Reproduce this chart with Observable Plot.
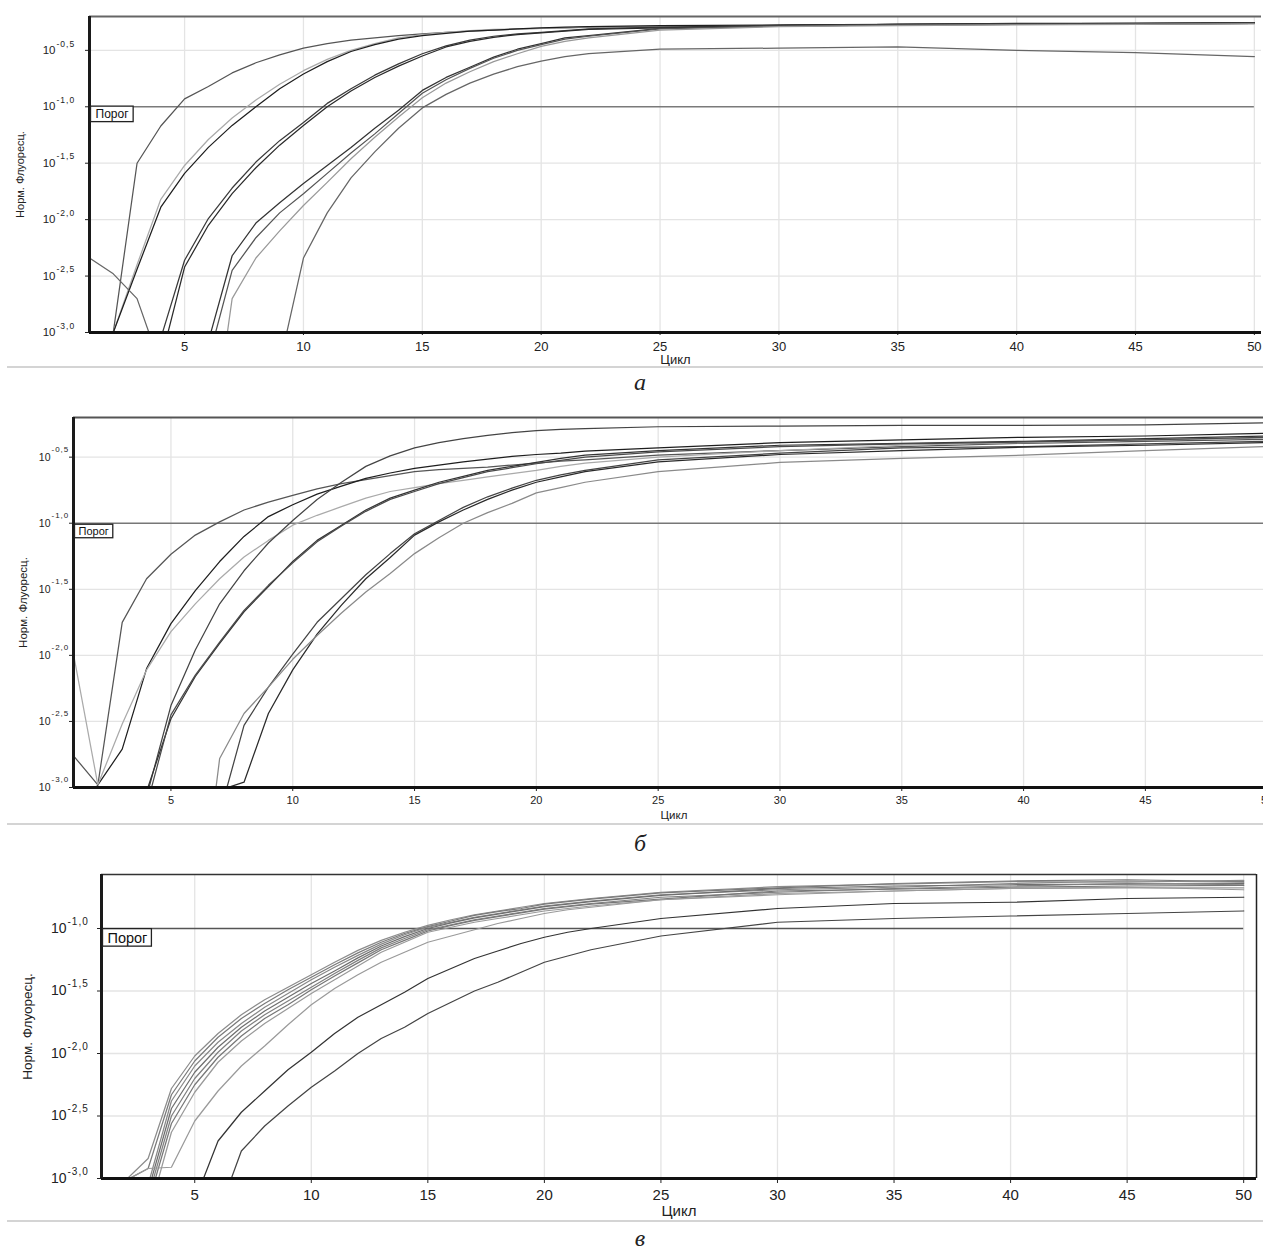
<!DOCTYPE html>
<html><head><meta charset="utf-8">
<script src="https://cdn.jsdelivr.net/npm/d3@7"></script>
<script src="https://cdn.jsdelivr.net/npm/@observablehq/plot@0.6"></script>
<style>
html,body{margin:0;padding:0;background:#fff;overflow:hidden;}
#root{position:relative;width:1263px;height:1254px;overflow:hidden;font-family:"Liberation Sans",Arial,sans-serif;}
.sep{position:absolute;left:7px;width:1256px;height:2px;background:#d4d4d4;}
.cap{position:absolute;width:60px;text-align:center;font-family:"Liberation Serif","DejaVu Serif",serif;font-style:italic;font-size:24px;color:#222;line-height:0.8;}
</style></head><body><div id="root"></div>
<script>
// ---------- shared ----------
const cycles = [1,2,3,4,5,6,7,8,9,10,11,12,13,14,15,16,17,18,19,20,21,22,25,30,35,40,45,50];
const xTicks = [5,10,15,20,25,30,35,40,45,50];
const yTicksAB = [-3,-2.5,-2,-1.5,-1,-0.5];
const yTicksC = [-3,-2.5,-2,-1.5,-1];
const thresholdExp = -1.0;
const yLabel = "Норм. Флуоресц.";
const xLabel = "Цикл";
const thrLabel = "Порог";
const captions = ["а", "б", "в"];

// ---------- panel а (log10 of normalized fluorescence) ----------
const A1 = [-3.5,-3.0,-1.50,-1.17,-0.93,-0.82,-0.70,-0.61,-0.54,-0.48,-0.44,-0.41,-0.39,-0.37,-0.355,-0.34,-0.33,-0.32,-0.31,-0.305,-0.30,-0.295,-0.29,-0.28,-0.27,-0.265,-0.265,-0.26];
const A2 = [-3.6,-3.0,-2.40,-1.82,-1.52,-1.29,-1.10,-0.94,-0.80,-0.68,-0.58,-0.50,-0.44,-0.39,-0.36,-0.34,-0.325,-0.315,-0.31,-0.305,-0.30,-0.295,-0.29,-0.28,-0.275,-0.27,-0.265,-0.26];
const A3 = [-3.6,-3.0,-2.44,-1.89,-1.59,-1.36,-1.165,-1.0,-0.84,-0.71,-0.60,-0.51,-0.45,-0.40,-0.37,-0.35,-0.33,-0.32,-0.31,-0.30,-0.295,-0.29,-0.28,-0.275,-0.27,-0.26,-0.26,-0.255];
const A4 = [-3.8,-3.8,-3.5,-3.05,-2.36,-1.99,-1.72,-1.49,-1.30,-1.14,-0.97,-0.84,-0.72,-0.62,-0.53,-0.46,-0.41,-0.375,-0.355,-0.34,-0.325,-0.31,-0.295,-0.28,-0.27,-0.265,-0.26,-0.26];
const A5 = [-3.8,-3.8,-3.6,-3.25,-2.42,-2.05,-1.77,-1.54,-1.34,-1.165,-1.0,-0.86,-0.74,-0.64,-0.55,-0.47,-0.42,-0.385,-0.36,-0.345,-0.33,-0.315,-0.30,-0.285,-0.275,-0.27,-0.265,-0.26];
const A6 = [-3.8,-3.8,-3.8,-3.8,-3.8,-3.08,-2.32,-2.03,-1.85,-1.68,-1.52,-1.36,-1.19,-1.03,-0.855,-0.74,-0.65,-0.56,-0.49,-0.44,-0.39,-0.37,-0.305,-0.28,-0.27,-0.265,-0.26,-0.255];
const A7 = [-3.8,-3.8,-3.8,-3.8,-3.8,-3.24,-2.45,-2.16,-1.94,-1.77,-1.59,-1.41,-1.24,-1.06,-0.88,-0.76,-0.66,-0.57,-0.50,-0.45,-0.40,-0.375,-0.31,-0.285,-0.275,-0.27,-0.265,-0.26];
const A8 = [-3.8,-3.8,-3.8,-3.8,-3.8,-4.2,-2.70,-2.34,-2.10,-1.875,-1.67,-1.46,-1.27,-1.09,-0.92,-0.79,-0.69,-0.60,-0.53,-0.465,-0.42,-0.39,-0.32,-0.29,-0.28,-0.275,-0.27,-0.265];
const A9 = [-2.34,-2.48,-2.70,-3.30,-3.6,-3.6,-3.6,-3.6,-3.28,-2.34,-1.94,-1.63,-1.40,-1.19,-1.01,-0.89,-0.79,-0.71,-0.645,-0.595,-0.555,-0.53,-0.49,-0.48,-0.47,-0.50,-0.52,-0.555];
const seriesA = [A1,A2,A3,A4,A5,A6,A7,A8,A9];
const namesA = ["A1","A2","A3","A4","A5","A6","A7","A8","A9"];
const colorsA = ["#555","#aaa","#1e1e1e","#3a3a3a","#2a2a2a","#333","#555","#999","#666"];

// ---------- panel б ----------
const B1 = [-2.76,-2.98,-1.75,-1.42,-1.235,-1.09,-0.99,-0.90,-0.84,-0.79,-0.74,-0.70,-0.67,-0.64,-0.61,-0.595,-0.585,-0.575,-0.56,-0.545,-0.53,-0.52,-0.485,-0.45,-0.42,-0.395,-0.38,-0.365];
const B2 = [-3.3,-2.98,-2.71,-2.10,-1.76,-1.51,-1.29,-1.10,-0.95,-0.86,-0.78,-0.72,-0.66,-0.62,-0.585,-0.56,-0.535,-0.515,-0.495,-0.48,-0.47,-0.455,-0.43,-0.39,-0.37,-0.35,-0.34,-0.32];
const B3 = [-1.99,-2.98,-2.52,-2.11,-1.82,-1.61,-1.42,-1.255,-1.13,-1.015,-0.94,-0.875,-0.81,-0.76,-0.73,-0.70,-0.675,-0.65,-0.625,-0.60,-0.57,-0.545,-0.50,-0.45,-0.41,-0.39,-0.37,-0.355];
const B4 = [-3.6,-3.6,-3.5,-3.07,-2.38,-1.96,-1.61,-1.36,-1.15,-0.98,-0.82,-0.69,-0.57,-0.49,-0.43,-0.39,-0.36,-0.335,-0.315,-0.30,-0.29,-0.285,-0.27,-0.265,-0.26,-0.26,-0.255,-0.24];
const B5 = [-3.6,-3.6,-3.5,-3.03,-2.48,-2.16,-1.91,-1.67,-1.48,-1.29,-1.13,-1.015,-0.90,-0.81,-0.75,-0.69,-0.645,-0.60,-0.57,-0.54,-0.51,-0.485,-0.45,-0.41,-0.395,-0.38,-0.36,-0.34];
const B6 = [-3.6,-3.6,-3.5,-3.14,-2.45,-2.15,-1.90,-1.66,-1.47,-1.30,-1.14,-1.02,-0.91,-0.82,-0.76,-0.70,-0.655,-0.61,-0.58,-0.55,-0.525,-0.50,-0.46,-0.42,-0.40,-0.385,-0.37,-0.35];
const B7 = [-3.6,-3.6,-3.6,-3.6,-3.6,-3.6,-3.2,-2.53,-2.24,-1.99,-1.75,-1.57,-1.39,-1.23,-1.08,-0.98,-0.88,-0.80,-0.735,-0.675,-0.635,-0.60,-0.52,-0.47,-0.43,-0.42,-0.40,-0.38];
const B8 = [-3.6,-3.6,-3.6,-3.6,-3.6,-3.6,-3.02,-2.96,-2.44,-2.11,-1.84,-1.62,-1.42,-1.26,-1.09,-0.99,-0.90,-0.82,-0.75,-0.69,-0.65,-0.61,-0.535,-0.48,-0.45,-0.425,-0.41,-0.39];
const B9 = [-3.6,-3.6,-3.6,-3.6,-3.6,-4.25,-2.78,-2.44,-2.24,-2.03,-1.85,-1.68,-1.52,-1.38,-1.23,-1.11,-1.0,-0.92,-0.85,-0.77,-0.73,-0.69,-0.61,-0.54,-0.51,-0.485,-0.45,-0.42];
const seriesB = [B1,B2,B3,B4,B5,B6,B7,B8,B9];
const namesB = ["B1","B2","B3","B4","B5","B6","B7","B8","B9"];
const colorsB = ["#555","#1e1e1e","#aaa","#444","#333","#4a4a4a","#444","#2a2a2a","#8a8a8a"];

// ---------- panel в ----------
const C1 = [-3.3,-3.02,-2.84,-2.28,-2.02,-1.84,-1.69,-1.57,-1.47,-1.37,-1.27,-1.175,-1.095,-1.03,-0.975,-0.93,-0.89,-0.86,-0.83,-0.80,-0.78,-0.76,-0.71,-0.665,-0.645,-0.625,-0.63,-0.615];
const C2 = [-3.3,-3.02,-2.92,-2.33,-2.06,-1.87,-1.72,-1.60,-1.49,-1.39,-1.29,-1.195,-1.11,-1.04,-0.985,-0.94,-0.895,-0.865,-0.84,-0.805,-0.785,-0.765,-0.715,-0.675,-0.64,-0.62,-0.61,-0.625];
const C3 = [-3.5,-3.4,-3.05,-2.38,-2.10,-1.91,-1.76,-1.63,-1.52,-1.41,-1.31,-1.215,-1.125,-1.05,-0.99,-0.95,-0.91,-0.88,-0.85,-0.82,-0.80,-0.78,-0.73,-0.69,-0.67,-0.64,-0.62,-0.63];
const C4 = [-3.5,-3.4,-3.1,-2.44,-2.15,-1.95,-1.79,-1.66,-1.55,-1.44,-1.34,-1.235,-1.14,-1.065,-1.00,-0.955,-0.915,-0.885,-0.855,-0.825,-0.805,-0.785,-0.735,-0.68,-0.66,-0.65,-0.645,-0.64];
const C5 = [-3.5,-3.4,-3.15,-2.50,-2.20,-1.99,-1.82,-1.69,-1.58,-1.47,-1.36,-1.255,-1.155,-1.08,-1.01,-0.97,-0.93,-0.90,-0.87,-0.84,-0.82,-0.80,-0.75,-0.71,-0.68,-0.66,-0.64,-0.65];
const C6 = [-3.5,-3.4,-3.2,-2.56,-2.25,-2.03,-1.86,-1.72,-1.61,-1.49,-1.38,-1.275,-1.17,-1.095,-1.02,-0.975,-0.935,-0.905,-0.875,-0.845,-0.825,-0.805,-0.765,-0.70,-0.685,-0.67,-0.66,-0.655];
const C7 = [-3.5,-3.4,-3.3,-2.63,-2.31,-2.07,-1.90,-1.76,-1.64,-1.52,-1.41,-1.30,-1.19,-1.11,-1.03,-0.99,-0.95,-0.92,-0.89,-0.86,-0.84,-0.82,-0.77,-0.72,-0.70,-0.68,-0.675,-0.675];
const C8 = [-3.3,-3.02,-2.92,-2.91,-2.54,-2.30,-2.10,-1.94,-1.77,-1.61,-1.48,-1.37,-1.27,-1.19,-1.11,-1.06,-1.01,-0.96,-0.92,-0.88,-0.85,-0.83,-0.77,-0.73,-0.70,-0.68,-0.67,-0.69];
const C9 = [-3.6,-3.6,-3.6,-3.6,-3.18,-2.70,-2.47,-2.30,-2.13,-1.99,-1.84,-1.71,-1.61,-1.51,-1.40,-1.32,-1.24,-1.18,-1.12,-1.07,-1.03,-1.0,-0.92,-0.84,-0.80,-0.79,-0.76,-0.75];
const C10 = [-3.6,-3.6,-3.6,-3.6,-3.6,-3.29,-2.78,-2.58,-2.42,-2.27,-2.14,-2.00,-1.88,-1.79,-1.68,-1.59,-1.50,-1.43,-1.35,-1.27,-1.22,-1.17,-1.06,-0.95,-0.92,-0.90,-0.88,-0.86];
const seriesC = [C1,C2,C3,C4,C5,C6,C7,C8,C9,C10];
const namesC = ["C1","C2","C3","C4","C5","C6","C7","C8","C9","C10"];
const colorsC = ["#8c8c8c","#7a7a7a","#888","#6e6e6e","#808080","#777","#999","#9a9a9a","#333","#444"];

// ---------- helpers ----------
const FONT = '"Liberation Sans", Arial, sans-serif';
const xMin = cycles[0];
const xLast = cycles[cycles.length - 1];
function toTable(series, names) {
  const rows = [];
  series.forEach((vals, i) => vals.forEach((v, j) => rows.push({cycle: cycles[j], value: v, series: names[i]})));
  return rows;
}
const expFmt = d => d.toFixed(1).replace(".", ",");

function makePanel(c) {
  const gridY = c.yTicks.filter(v => v !== thresholdExp && v > c.yMin);
  return Plot.plot({
    width: c.width, height: c.height,
    marginLeft: c.mL, marginRight: c.mR, marginTop: c.mT, marginBottom: c.mB,
    style: {fontFamily: FONT, fontSize: c.xFont + "px", color: "#222", background: "transparent", maxWidth: "none", overflow: "visible"},
    x: {domain: [xMin, c.xMax], ticks: xTicks, tickSize: c.tickX, tickPadding: c.padX, label: null, tickFormat: d => String(d)},
    y: {domain: [c.yMin, c.yMax], ticks: c.yTicks, tickSize: 4, tickPadding: 0, tickFormat: () => "", label: null},
    color: {domain: c.names, range: c.colors},
    marks: [
      Plot.ruleX(xTicks, {stroke: "#e4e4e4", strokeWidth: 1.3}),
      Plot.ruleY(gridY, {stroke: "#e4e4e4", strokeWidth: 1.3}),
      Plot.ruleY([thresholdExp], {x1: () => xMin, x2: () => c.thrEnd, stroke: c.thrColor, strokeWidth: c.thrW}),
      Plot.line(c.table, {x: "cycle", y: "value", z: "series", stroke: "series", strokeWidth: 1.25, clip: true}),
      Plot.ruleY([c.yMax], {stroke: c.topColor, strokeWidth: c.topW}),
      ...(c.rightFrame ? [Plot.ruleX([c.xMax], {stroke: "#222", strokeWidth: 1.5})] : []),
      Plot.ruleY([c.yMin], {stroke: "#111", strokeWidth: 3}),
      Plot.ruleX([xMin], {stroke: "#1a1a1a", strokeWidth: 3}),
      Plot.text(c.yTicks, {y: d => d, frameAnchor: "left", text: () => "10", textAnchor: "end", lineAnchor: "middle", dx: c.tenDx, fontSize: c.yFont, fill: "#222"}),
      Plot.text(c.yTicks, {y: d => d, frameAnchor: "left", text: d => expFmt(d), textAnchor: "start", lineAnchor: "middle", dx: c.expDx, dy: c.expDy, fontSize: c.expFont, fill: "#222"}),
      Plot.text([xLabel], {frameAnchor: "bottom", text: d => d, textAnchor: "middle", lineAnchor: "middle", dy: c.cyclDy, fontSize: c.cyclFont, fill: "#222"}),
      Plot.text([yLabel], {frameAnchor: "left", text: d => d, textAnchor: "middle", lineAnchor: "middle", rotate: -90, dx: c.ylabDx, fontSize: c.ylabFont, fill: "#222"}),
      Plot.text([thresholdExp], {x: () => xMin, y: d => d, text: () => thrLabel, textAnchor: "start", lineAnchor: "middle", dx: c.lblDx, dy: c.lblDy, fontSize: c.lblFont, fill: "#111"})
    ]
  });
}

function boxLabels(svg, pad) {
  svg.querySelectorAll("text").forEach(t => {
    if (t.textContent === thrLabel) {
      const b = t.getBBox();
      const r = document.createElementNS("http://www.w3.org/2000/svg", "rect");
      r.setAttribute("x", b.x - pad); r.setAttribute("y", b.y - 1);
      r.setAttribute("width", b.width + pad + 4); r.setAttribute("height", b.height + 1.5);
      r.setAttribute("fill", "white"); r.setAttribute("stroke", "#222"); r.setAttribute("stroke-width", 1.3);
      const tf = t.getAttribute("transform"); if (tf) r.setAttribute("transform", tf);
      t.parentNode.insertBefore(r, t);
    }
    if (/^-\d,\d$/.test(t.textContent)) t.style.letterSpacing = "1px";
  });
}

const root = document.getElementById("root");
const panels = [
  {top: 0, table: toTable(seriesA, namesA), names: namesA, colors: colorsA, width: 1263, height: 366, mL: 89, mR: 2, mT: 16, mB: 34,
   xMax: 50.3, yMin: -3, yMax: -0.2, yTicks: yTicksAB, thrEnd: xLast, thrColor: "#7a7a7a", thrW: 1.6, topColor: "#666", topW: 2, rightFrame: false,
   xFont: 13, tickX: 3, padX: 6, yFont: 11.5, tenDx: -34, expDx: -33, expDy: -6.5, expFont: 8.5, cyclDy: 27, cyclFont: 13, ylabDx: -69, ylabFont: 11,
   lblDx: 6, lblDy: 7.5, lblFont: 12, pad: 5, sep: 366, cap: 373},
  {top: 400, table: toTable(seriesB, namesB), names: namesB, colors: colorsB, width: 1277, height: 422, mL: 73, mR: 3, mT: 17, mB: 35,
   xFont: 11, tickX: 4, padX: 5, yFont: 10.5, tenDx: -23, expDx: -22, expDy: -8, expFont: 8, cyclDy: 28, cyclFont: 11.5, ylabDx: -50, ylabFont: 11.5,
   xMax: 50.3, yMin: -3, yMax: -0.2, yTicks: yTicksAB, thrEnd: 50.3, thrColor: "#777", thrW: 1.6, topColor: "#555", topW: 2, rightFrame: false,
   lblDx: 5, lblDy: 8.5, lblFont: 11, pad: 4, sep: 823, cap: 834},
  {top: 860, table: toTable(seriesC, namesC), names: namesC, colors: colorsC, width: 1263, height: 358, mL: 101, mR: 7, mT: 14, mB: 40,
   xMax: 50.55, yMin: -3, yMax: -0.568, yTicks: yTicksC, thrEnd: xLast, thrColor: "#555", thrW: 1.3, topColor: "#333", topW: 1.5, rightFrame: true,
   xFont: 15, tickX: 5, padX: 6, yFont: 14, tenDx: -35, expDx: -34, expDy: -7, expFont: 10, cyclDy: 33, cyclFont: 15, ylabDx: -74, ylabFont: 13.5,
   lblDx: 6, lblDy: 9.5, lblFont: 14.5, pad: 5, sep: 1220, cap: 1229}
];

panels.forEach((p, i) => {
  const svg = makePanel(p);
  svg.style.position = "absolute";
  svg.style.left = "0px";
  svg.style.top = p.top + "px";
  root.appendChild(svg);
  boxLabels(svg, p.pad);
  const sep = document.createElement("div");
  sep.className = "sep"; sep.style.top = p.sep + "px";
  root.appendChild(sep);
  const cap = document.createElement("div");
  cap.className = "cap"; cap.textContent = captions[i];
  cap.style.left = "610px"; cap.style.top = p.cap + "px";
  root.appendChild(cap);
});
</script></body></html>
